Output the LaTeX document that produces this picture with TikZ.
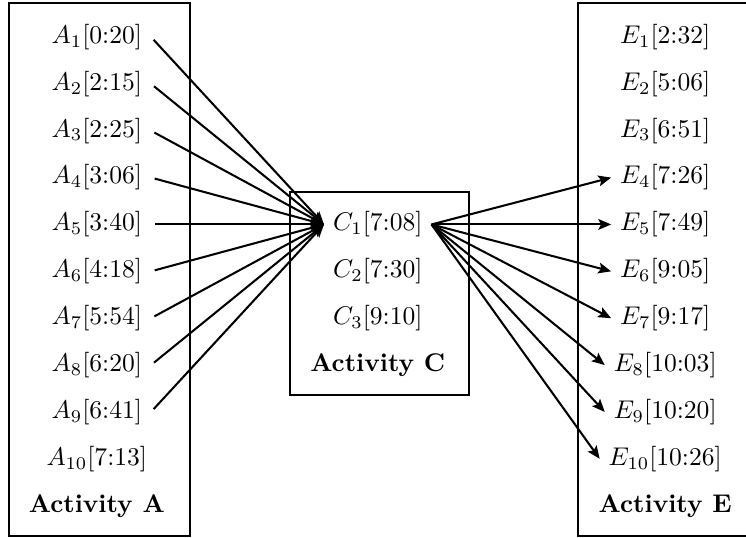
\documentclass[tikz,border=0pt]{standalone}
\usepackage{amsmath,amssymb}
\usepackage{tikz}
\usetikzlibrary{arrows.meta}
\newcommand{\boxw}{2.49cm}
\tikzset{actbox/.style={draw, thick, rectangle, minimum width=\boxw},
         flow/.style={thick, -{Stealth[length=5pt,width=4.2pt,inset=1pt]}}}

\begin{document}
\begin{tikzpicture}
        \useasboundingbox (0,0) rectangle (10.25,-7.39);
        \clip (0,0) rectangle (10.25,-7.39);
          % boxes
        \node (boxA) at (1.367,-3.70) [actbox, minimum height=7.32cm] {};
        \node (boxC) at (5.213,-4.03) [actbox, minimum height=2.79cm, minimum width=2.46cm] {};
        \node (boxE) at (9.185,-3.70) [actbox, minimum height=7.32cm] {};

          % activity A
        \node (a1) at (1.33,-0.508) {$A_1$[0:20]};
        \node (a2) at (1.33,-1.152) {$A_2$[2:15]};
        \node (a3) at (1.33,-1.796) {$A_3$[2:25]};
        \node (a4) at (1.33,-2.440) {$A_4$[3:06]};
        \node (a5) at (1.33,-3.084) {$A_5$[3:40]};
        \node (a6) at (1.33,-3.728) {$A_6$[4:18]};
        \node (a7) at (1.33,-4.372) {$A_7$[5:54]};
        \node (a8) at (1.33,-5.016) {$A_8$[6:20]};
        \node (a9) at (1.33,-5.660) {$A_9$[6:41]};
        \node (a10) at (1.33,-6.304) {$A_{10}$[7:13]};
        \node (actA) at (1.33,-6.948) {\textbf{Activity A}};

          % activity C
        \node (c1) at (5.19,-3.084) {$C_1$[7:08]};
        \node (c2) at (5.19,-3.728) {$C_2$[7:30]};
        \node (c3) at (5.19,-4.372) {$C_3$[9:10]};
        \node (actC) at (5.19,-5.016) {\textbf{Activity C}};

          % activity E
        \node (e1) at (9.14,-0.508) {$E_1$[2:32]};
        \node (e2) at (9.14,-1.152) {$E_2$[5:06]};
        \node (e3) at (9.14,-1.796) {$E_3$[6:51]};
        \node (e4) at (9.14,-2.440) {$E_4$[7:26]};
        \node (e5) at (9.14,-3.084) {$E_5$[7:49]};
        \node (e6) at (9.14,-3.728) {$E_6$[9:05]};
        \node (e7) at (9.14,-4.372) {$E_7$[9:17]};
        \node (e8) at (9.14,-5.016) {$E_8$[10:03]};
        \node (e9) at (9.14,-5.660) {$E_9$[10:20]};
        \node (e10) at (9.14,-6.304) {$E_{10}$[10:26]};
        \node (actE) at (9.14,-6.948) {\textbf{Activity E}};

        \draw[flow, shorten <=1.5pt] (a1.east) to (c1.west);
        \draw[flow, shorten <=1.5pt] (a2.east) to (c1.west);
        \draw[flow, shorten <=1.5pt] (a3.east) to (c1.west);
        \draw[flow, shorten <=1.5pt] (a4.east) to (c1.west);
        \draw[flow, shorten <=1.5pt] (a5.east) to (c1.west);
        \draw[flow, shorten <=1.5pt] (a6.east) to (c1.west);
        \draw[flow, shorten <=1.5pt] (a7.east) to (c1.west);
        \draw[flow, shorten <=1.5pt] (a8.east) to (c1.west);
        \draw[flow, shorten <=1.5pt] (a9.east) to (c1.west);

        \draw[flow] (c1.east) to (e4.west);
        \draw[flow] (c1.east) to (e5.west);
        \draw[flow] (c1.east) to (e6.west);
        \draw[flow] (c1.east) to (e7.west);
        \draw[flow] (c1.east) to (e8.west);
        \draw[flow] (c1.east) to (e9.west);
        \draw[flow] (c1.east) to (e10.west);
        \end{tikzpicture}
\end{document}
